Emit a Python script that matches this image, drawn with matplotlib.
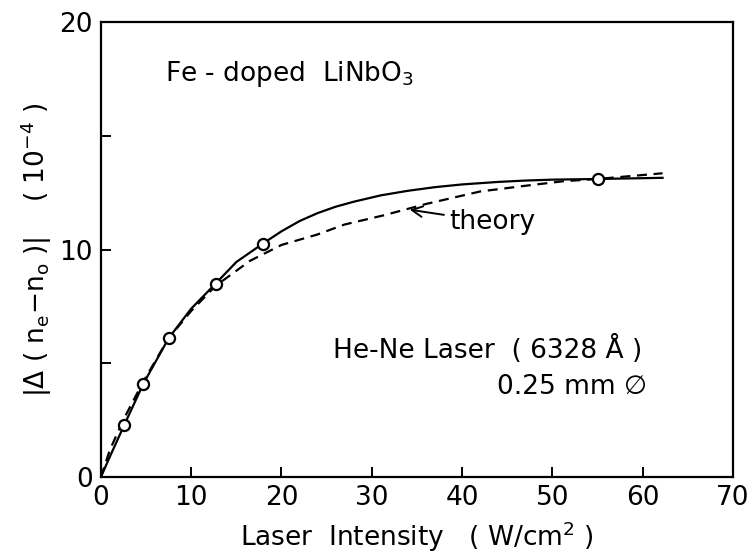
import matplotlib
matplotlib.use("Agg")
import matplotlib.pyplot as plt

# measured points (open circles)
meas_x = [2.6, 4.7, 7.5, 12.7, 17.9, 55.0]
meas_y = [2.3, 4.1, 6.1, 8.5, 10.25, 13.1]

# solid curve drawn through the measurements
solid_x = [0, 1.0, 2.6, 4.7, 7.5, 10.0, 12.7, 15.0, 17.9, 20.0, 22.0, 24.0, 26.0,
           28.0, 31.0, 34.0, 37.0, 40.0, 44.0, 47.0, 50.0, 55.0, 62.2]
solid_y = [0, 0.9, 2.3, 4.1, 6.1, 7.4, 8.5, 9.45, 10.25, 10.8, 11.25, 11.6, 11.88,
           12.1, 12.38, 12.58, 12.74, 12.86, 12.97, 13.03, 13.07, 13.1, 13.15]

# theory curve (dashed)
theory_x = [0, 1.0, 2.6, 4.7, 7.5, 10.0, 12.7, 16.5, 20.0, 23.9, 27.0, 31.3, 36.0,
            42.0, 47.0, 51.2, 55.0, 62.2]
theory_y = [0, 1.2, 2.6, 4.2, 6.1, 7.3, 8.4, 9.5, 10.2, 10.65, 11.1, 11.5, 12.0,
            12.55, 12.8, 13.0, 13.1, 13.35]

x_ticks = [0, 10, 20, 30, 40, 50, 60, 70]
y_ticks = [0, 5, 10, 15, 20]
y_labels = ["0", "", "10", "", "20"]

fs = 19

fig = plt.figure(figsize=(7.53, 5.55), dpi=100)
ax = fig.add_axes([0.134, 0.1405, 0.8394, 0.8199])

ax.plot(solid_x, solid_y, color="black", lw=1.6)
ax.plot(theory_x, theory_y, color="black", lw=1.6, ls=(0, (4.5, 3)))
ax.plot(meas_x, meas_y, ls="none", marker="o", ms=8, mfc="white",
        mec="black", mew=1.6)

ax.set_xlim(0, 70)
ax.set_ylim(0, 20)
ax.set_xticks(x_ticks)
ax.set_yticks(y_ticks)
ax.set_yticklabels(y_labels)
ax.tick_params(direction="in", length=7, width=1.4, labelsize=fs, pad=6)
for s in ax.spines.values():
    s.set_linewidth(1.6)

ax.set_xlabel("Laser  Intensity   ( W/cm$^\\mathregular{2}$ )", fontsize=fs, labelpad=6)
ax.set_ylabel("|Δ ( n$_\\mathregular{e}$−n$_\\mathregular{o}$ )|    ( 10$^\\mathregular{-4}$ )",
              fontsize=fs, labelpad=4)

ax.text(7.1, 17.7, "Fe - doped  LiNbO$_\\mathregular{3}$", fontsize=fs, va="center")
ax.annotate("theory", xy=(34.2, 11.75), xytext=(38.6, 11.2), fontsize=fs,
            va="center",
            arrowprops=dict(arrowstyle="->", color="black", lw=1.4,
                            shrinkA=2, shrinkB=0))
ax.text(25.7, 5.6, "He-Ne Laser  ( 6328 Å )", fontsize=fs, va="center")
ax.text(43.9, 3.95, "0.25 mm ∅", fontsize=fs, va="center")

fig.savefig("out.png", dpi=100)
